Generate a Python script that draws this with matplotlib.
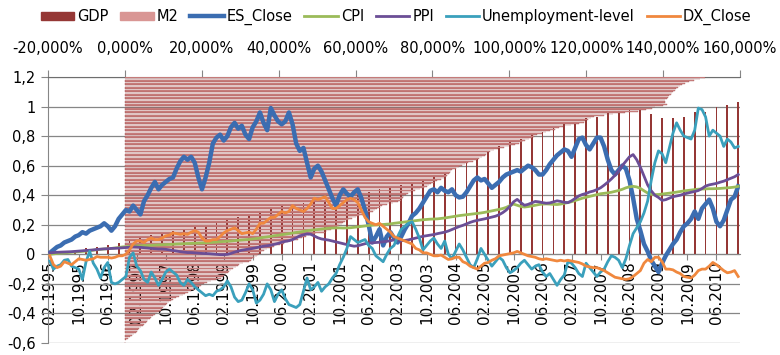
import matplotlib
matplotlib.use("Agg")
import matplotlib.pyplot as plt
from matplotlib.patches import Patch
from matplotlib.lines import Line2D

# monthly categories 02.1995 .. 12.2010 (191 months)
n_months = 191
tick_labels = ["02.1995", "10.1995", "06.1996", "02.1997", "10.1997", "06.1998",
               "02.1999", "10.1999", "06.2000", "02.2001", "10.2001", "06.2002",
               "02.2003", "10.2003", "06.2004", "02.2005", "10.2005", "06.2006",
               "02.2007", "10.2007", "06.2008", "02.2009", "10.2009", "06.2010"]

es_close = [
    0.01, 0.03, 0.05, 0.06, 0.08, 0.09, 0.10, 0.12, 0.13, 0.15, 0.14, 0.16,
    0.17, 0.18, 0.19, 0.21, 0.19, 0.16, 0.19, 0.24, 0.27, 0.30, 0.29, 0.33,
    0.30, 0.27, 0.36, 0.40, 0.45, 0.49, 0.44, 0.47, 0.49, 0.51, 0.52, 0.58,
    0.63, 0.66, 0.64, 0.66, 0.62, 0.52, 0.44, 0.52, 0.62, 0.75, 0.79, 0.81,
    0.77, 0.80, 0.86, 0.89, 0.85, 0.87, 0.81, 0.78, 0.86, 0.90, 0.96, 0.89,
    0.84, 0.99, 0.94, 0.90, 0.88, 0.90, 0.96, 0.88, 0.75, 0.70, 0.72, 0.62,
    0.52, 0.58, 0.60, 0.56, 0.50, 0.44, 0.38, 0.33, 0.40, 0.44, 0.41, 0.39,
    0.42, 0.44, 0.38, 0.30, 0.20, 0.08, 0.12, 0.17, 0.06, 0.12, 0.15, 0.11,
    0.08, 0.12, 0.17, 0.21, 0.26, 0.28, 0.31, 0.35, 0.39, 0.43, 0.44, 0.42,
    0.45, 0.43, 0.42, 0.44, 0.40, 0.385, 0.39, 0.42, 0.46, 0.50, 0.52, 0.50,
    0.51, 0.48, 0.45, 0.47, 0.49, 0.52, 0.54, 0.55, 0.56, 0.57, 0.56, 0.58,
    0.60, 0.59, 0.57, 0.54, 0.54, 0.57, 0.61, 0.64, 0.67, 0.69, 0.71, 0.70,
    0.66, 0.72, 0.78, 0.79, 0.74, 0.71, 0.75, 0.79, 0.79, 0.73, 0.64, 0.57,
    0.54, 0.57, 0.60, 0.58, 0.50, 0.38, 0.24, 0.16, 0.07, 0.02, -0.04, -0.08,
    -0.12, -0.06, -0.01, 0.03, 0.07, 0.10, 0.15, 0.19, 0.21, 0.24, 0.29, 0.24,
    0.31, 0.34, 0.37, 0.31, 0.22, 0.19, 0.23, 0.30, 0.37, 0.39, 0.46]

cpi = [
    0.000, 0.003, 0.006, 0.008, 0.010, 0.012, 0.014, 0.016, 0.018, 0.020, 0.022, 0.025,
    0.028, 0.031, 0.034, 0.036, 0.038, 0.040, 0.043, 0.046, 0.050, 0.052, 0.053, 0.055,
    0.057, 0.058, 0.059, 0.060, 0.061, 0.063, 0.064, 0.065, 0.066, 0.067, 0.068, 0.070,
    0.071, 0.072, 0.073, 0.074, 0.075, 0.076, 0.077, 0.078, 0.080, 0.081, 0.083, 0.085,
    0.087, 0.088, 0.090, 0.093, 0.095, 0.097, 0.099, 0.101, 0.104, 0.107, 0.110, 0.115,
    0.118, 0.122, 0.126, 0.129, 0.133, 0.136, 0.140, 0.144, 0.148, 0.151, 0.155, 0.160,
    0.163, 0.166, 0.168, 0.171, 0.174, 0.177, 0.178, 0.179, 0.179, 0.178, 0.179, 0.180,
    0.183, 0.186, 0.189, 0.192, 0.195, 0.197, 0.199, 0.200, 0.202, 0.204, 0.206, 0.210,
    0.213, 0.216, 0.219, 0.222, 0.225, 0.228, 0.231, 0.234, 0.236, 0.238, 0.239, 0.240,
    0.243, 0.246, 0.250, 0.254, 0.258, 0.262, 0.265, 0.268, 0.271, 0.274, 0.277, 0.280,
    0.284, 0.289, 0.294, 0.299, 0.304, 0.310, 0.318, 0.330, 0.340, 0.332, 0.324, 0.320,
    0.323, 0.327, 0.332, 0.337, 0.340, 0.341, 0.340, 0.338, 0.337, 0.340, 0.345, 0.350,
    0.356, 0.364, 0.372, 0.380, 0.386, 0.392, 0.398, 0.404, 0.410, 0.413, 0.416, 0.420,
    0.426, 0.432, 0.440, 0.450, 0.457, 0.460, 0.456, 0.446, 0.430, 0.415, 0.406, 0.404,
    0.405, 0.408, 0.411, 0.414, 0.417, 0.421, 0.425, 0.429, 0.432, 0.435, 0.438, 0.441,
    0.442, 0.443, 0.444, 0.444, 0.445, 0.446, 0.448, 0.450, 0.452, 0.455, 0.460]

ppi = [
    0.010, 0.012, 0.014, 0.015, 0.016, 0.017, 0.018, 0.020, 0.022, 0.024, 0.026, 0.028,
    0.030, 0.033, 0.035, 0.037, 0.038, 0.040, 0.041, 0.042, 0.044, 0.046, 0.048, 0.050,
    0.049, 0.047, 0.045, 0.043, 0.040, 0.038, 0.036, 0.036, 0.034, 0.030, 0.026, 0.022,
    0.018, 0.015, 0.012, 0.012, 0.010, 0.008, 0.006, 0.005, 0.004, 0.002, 0.000, -0.002,
    -0.002, 0.000, 0.006, 0.015, 0.022, 0.028, 0.032, 0.036, 0.040, 0.045, 0.050, 0.055,
    0.058, 0.062, 0.068, 0.074, 0.082, 0.088, 0.092, 0.100, 0.112, 0.125, 0.132, 0.138,
    0.136, 0.124, 0.112, 0.104, 0.100, 0.096, 0.090, 0.084, 0.078, 0.072, 0.066, 0.060,
    0.055, 0.058, 0.065, 0.072, 0.076, 0.078, 0.080, 0.082, 0.085, 0.088, 0.092, 0.098,
    0.096, 0.092, 0.094, 0.098, 0.104, 0.110, 0.116, 0.122, 0.126, 0.130, 0.134, 0.140,
    0.145, 0.150, 0.158, 0.168, 0.178, 0.188, 0.196, 0.206, 0.216, 0.224, 0.230, 0.235,
    0.240, 0.246, 0.252, 0.258, 0.268, 0.282, 0.300, 0.325, 0.355, 0.372, 0.350, 0.332,
    0.338, 0.348, 0.358, 0.355, 0.350, 0.346, 0.348, 0.355, 0.362, 0.358, 0.352, 0.350,
    0.362, 0.378, 0.395, 0.405, 0.412, 0.422, 0.428, 0.438, 0.450, 0.468, 0.488, 0.510,
    0.535, 0.565, 0.600, 0.630, 0.660, 0.675, 0.640, 0.590, 0.530, 0.470, 0.430, 0.400,
    0.385, 0.365, 0.370, 0.380, 0.390, 0.395, 0.400, 0.408, 0.414, 0.420, 0.425, 0.432,
    0.445, 0.462, 0.470, 0.475, 0.480, 0.488, 0.495, 0.505, 0.515, 0.525, 0.540]

unemployment = [
    -0.045, -0.10, -0.08, -0.07, -0.04, -0.035, -0.08, -0.09, -0.10, -0.17, -0.05, 0.02,
    -0.06, -0.10, -0.16, -0.09, -0.055, -0.19, -0.20, -0.19, -0.17, -0.15, -0.02, 0.01,
    -0.08, -0.11, -0.17, -0.19, -0.12, -0.16, -0.21, -0.17, -0.12, -0.10, -0.12, -0.14,
    -0.19, -0.21, -0.17, -0.19, -0.22, -0.24, -0.26, -0.28, -0.27, -0.28, -0.25, -0.24,
    -0.22, -0.18, -0.22, -0.29, -0.32, -0.31, -0.26, -0.20, -0.24, -0.33, -0.31, -0.27,
    -0.20, -0.24, -0.32, -0.27, -0.24, -0.30, -0.34, -0.35, -0.36, -0.34, -0.25, -0.16,
    -0.24, -0.22, -0.19, -0.25, -0.22, -0.20, -0.16, -0.13, -0.07, -0.02, 0.04, 0.12,
    0.10, 0.08, 0.09, 0.10, 0.06, 0.04, -0.01, -0.03, -0.05, 0.00, 0.04, 0.06,
    0.12, 0.17, 0.19, 0.21, 0.22, 0.17, 0.11, 0.03, 0.06, 0.09, 0.11, 0.07,
    0.04, 0.09, 0.00, -0.03, 0.02, 0.07, 0.03, -0.02, -0.07, -0.09, -0.03, 0.04,
    0.00, -0.04, -0.08, -0.05, -0.02, -0.04, -0.09, -0.125, -0.11, -0.09, -0.06, -0.04,
    -0.07, -0.10, -0.08, -0.07, -0.12, -0.15, -0.13, -0.17, -0.21, -0.17, -0.14, -0.05,
    -0.06, -0.09, -0.13, -0.15, -0.06, -0.09, -0.12, -0.15, -0.12, -0.10, -0.05, -0.01,
    -0.02, -0.04, -0.09, -0.03, 0.06, 0.14, 0.18, 0.22, 0.28, 0.36, 0.50, 0.62,
    0.70, 0.68, 0.62, 0.72, 0.82, 0.89, 0.84, 0.80, 0.79, 0.78, 0.84, 0.99,
    0.98, 0.93, 0.80, 0.84, 0.82, 0.80, 0.73, 0.78, 0.76, 0.72, 0.73]

dx_close = [
    -0.01, -0.07, -0.09, -0.08, -0.05, -0.06, -0.07, -0.05, -0.03, -0.035, -0.04, -0.035,
    -0.03, -0.015, -0.02, -0.02, -0.02, -0.025, -0.02, -0.01, -0.01, 0.00, 0.03, 0.07,
    0.09, 0.09, 0.08, 0.10, 0.11, 0.10, 0.10, 0.11, 0.125, 0.13, 0.145, 0.14,
    0.135, 0.14, 0.135, 0.15, 0.16, 0.15, 0.11, 0.09, 0.09, 0.10, 0.10, 0.12,
    0.145, 0.16, 0.17, 0.18, 0.16, 0.14, 0.145, 0.15, 0.14, 0.17, 0.21, 0.21,
    0.23, 0.25, 0.25, 0.27, 0.29, 0.28, 0.29, 0.33, 0.31, 0.30, 0.29, 0.31,
    0.34, 0.38, 0.37, 0.38, 0.39, 0.35, 0.31, 0.31, 0.33, 0.35, 0.37, 0.38,
    0.37, 0.35, 0.30, 0.25, 0.22, 0.21, 0.20, 0.21, 0.19, 0.17, 0.15, 0.12,
    0.11, 0.10, 0.09, 0.08, 0.07, 0.04, 0.03, 0.01, 0.01, 0.00, -0.01, -0.01,
    -0.005, -0.02, -0.035, -0.03, -0.02, -0.02, -0.05, -0.06, -0.08, -0.09, -0.10, -0.08,
    -0.06, -0.055, -0.04, -0.03, -0.01, -0.005, 0.00, 0.005, 0.01, 0.02, 0.01, 0.00,
    -0.01, -0.015, -0.02, -0.03, -0.035, -0.03, -0.035, -0.04, -0.045, -0.04, -0.045, -0.04,
    -0.045, -0.05, -0.055, -0.065, -0.08, -0.085, -0.09, -0.09, -0.10, -0.11, -0.125, -0.14,
    -0.155, -0.16, -0.165, -0.17, -0.165, -0.15, -0.13, -0.11, -0.06, -0.035, -0.05, -0.02,
    -0.02, -0.05, -0.10, -0.10, -0.105, -0.12, -0.13, -0.15, -0.155, -0.16, -0.14, -0.11,
    -0.10, -0.10, -0.08, -0.055, -0.07, -0.09, -0.11, -0.125, -0.12, -0.11, -0.15]

# quarterly GDP (months 03.1995, 06.1995, ... 12.2010)
gdp = [0.00, 0.01, 0.02, 0.04, 0.05, 0.06, 0.08, 0.10,
       0.11, 0.13, 0.14, 0.16, 0.17, 0.19, 0.20, 0.21,
       0.23, 0.25, 0.27, 0.29, 0.31, 0.33, 0.34, 0.35,
       0.36, 0.37, 0.37, 0.38, 0.40, 0.42, 0.44, 0.45,
       0.47, 0.49, 0.51, 0.54, 0.55, 0.58, 0.62, 0.65,
       0.70, 0.73, 0.77, 0.78, 0.82, 0.83, 0.86, 0.88,
       0.89, 0.92, 0.93, 0.96, 0.96, 0.98, 0.98, 0.95,
       0.92, 0.92, 0.93, 0.96, 0.96, 1.00, 1.01, 1.03]

# M2 growth, monthly, drawn as horizontal bars on the secondary axes
m2 = [
    0.000, 0.001, 0.004, 0.009, 0.014, 0.019, 0.024, 0.028, 0.031, 0.035, 0.038,
    0.042, 0.046, 0.051, 0.054, 0.057, 0.061, 0.065, 0.069, 0.073, 0.078, 0.083, 0.089,
    0.093, 0.096, 0.100, 0.104, 0.106, 0.110, 0.115, 0.120, 0.126, 0.133, 0.141, 0.150,
    0.157, 0.165, 0.173, 0.180, 0.186, 0.192, 0.198, 0.205, 0.213, 0.225, 0.238, 0.249,
    0.255, 0.259, 0.263, 0.268, 0.272, 0.277, 0.282, 0.288, 0.293, 0.298, 0.307, 0.323,
    0.328, 0.330, 0.335, 0.343, 0.345, 0.348, 0.354, 0.362, 0.370, 0.378, 0.388, 0.403,
    0.414, 0.423, 0.434, 0.450, 0.460, 0.470, 0.480, 0.494, 0.520, 0.525, 0.535, 0.548,
    0.553, 0.558, 0.565, 0.568, 0.573, 0.580, 0.590, 0.600, 0.610, 0.620, 0.633, 0.645,
    0.650, 0.656, 0.663, 0.670, 0.683, 0.697, 0.710, 0.718, 0.722, 0.723, 0.726, 0.731,
    0.737, 0.745, 0.755, 0.768, 0.778, 0.785, 0.790, 0.796, 0.805, 0.813, 0.822, 0.831,
    0.835, 0.838, 0.842, 0.845, 0.847, 0.852, 0.860, 0.868, 0.878, 0.885, 0.893, 0.905,
    0.915, 0.920, 0.928, 0.936, 0.940, 0.945, 0.950, 0.960, 0.970, 0.985, 1.000, 1.016,
    1.025, 1.032, 1.040, 1.052, 1.060, 1.065, 1.073, 1.085, 1.095, 1.107, 1.118, 1.130,
    1.140, 1.160, 1.180, 1.195, 1.198, 1.205, 1.213, 1.220, 1.245, 1.270, 1.300, 1.335,
    1.355, 1.370, 1.380, 1.400, 1.410, 1.405, 1.405, 1.405, 1.410, 1.412, 1.415, 1.421,
    1.423, 1.427, 1.430, 1.433, 1.440, 1.443, 1.450, 1.458, 1.467, 1.480, 1.495, 1.509]

GRID = "#868686"
FS = 10.5

months = list(range(n_months))
gdp_months = list(range(1, n_months, 3))

fig = plt.figure(figsize=(7.8, 3.55), dpi=100)
rect = [48 / 780, 1 - 343 / 355, 692 / 780, 266 / 355]

# primary: gridlines, GDP columns, axes
ax = fig.add_axes(rect)
ax.set_xlim(-0.5, n_months - 0.5)
ax.set_ylim(-0.6, 1.2)
# move the category axis to y=0 first (this resets the ticks)
for s in ["top", "right"]:
    ax.spines[s].set_visible(False)
ax.spines["left"].set_color(GRID)
ax.spines["bottom"].set_position(("data", 0))
ax.spines["bottom"].set_color(GRID)

yt = [-0.6, -0.4, -0.2, 0, 0.2, 0.4, 0.6, 0.8, 1.0, 1.2]
ax.set_yticks(yt)
ax.set_yticklabels([f"{v:g}".replace(".", ",") for v in yt])
ax.yaxis.grid(True, color=GRID, lw=0.9)
ax.set_axisbelow(True)
ax.bar(gdp_months, gdp, width=0.5, color="#953735", zorder=2)
ax.set_xticks(months[::8])
ax.set_xticklabels(tick_labels)
ax.tick_params(axis="x", length=4, color=GRID, pad=1, labelrotation=90, labelsize=11)
ax.tick_params(axis="y", length=5, color=GRID, pad=4, labelsize=FS)

# secondary: M2 horizontal bars with the percent axis on top
ax2 = fig.add_axes(rect, facecolor="none")
ax2.set_xlim(-0.2, 1.6)
ax2.set_ylim(-0.5, n_months - 0.5)
ax2.barh(months, m2, left=0, height=0.55, color="#D99694",
         edgecolor="#A04A49", linewidth=0.25, zorder=3)
ax2.xaxis.tick_top()
xt = [-0.2, 0, 0.2, 0.4, 0.6, 0.8, 1.0, 1.2, 1.4, 1.6]
ax2.set_xticks(xt)
ax2.set_xticklabels([f"{v * 100:.3f}".replace(".", ",") + "%" for v in xt])
ax2.tick_params(axis="x", length=5, color=GRID, pad=10, labelsize=FS)
ax2.set_yticks([])
for s in ["bottom", "left", "right"]:
    ax2.spines[s].set_visible(False)
ax2.spines["top"].set_color("#6E6E6E")

# lines on top
ax3 = fig.add_axes(rect, facecolor="none")
ax3.set_xlim(-0.5, n_months - 0.5)
ax3.set_ylim(-0.6, 1.2)
ax3.axis("off")
ax3.plot(months, es_close, color="#3B6DB1", lw=3.2, solid_joinstyle="round")
ax3.plot(months, cpi, color="#9BBB59", lw=2)
ax3.plot(months, ppi, color="#6B4E96", lw=2)
ax3.plot(months, unemployment, color="#3AA0BC", lw=2)
ax3.plot(months, dx_close, color="#F0883E", lw=2)

handles = [Patch(color="#953735"), Patch(color="#D99694"),
           Line2D([], [], color="#3B6DB1", lw=3.2),
           Line2D([], [], color="#9BBB59", lw=2),
           Line2D([], [], color="#6B4E96", lw=2),
           Line2D([], [], color="#3AA0BC", lw=2),
           Line2D([], [], color="#F0883E", lw=2)]
labels = ["GDP", "M2", "ES_Close", "CPI", "PPI", "Unemployment-level", "DX_Close"]
fig.legend(handles, labels, loc="center", bbox_to_anchor=(0.508, 1 - 17 / 355),
           ncol=7, frameon=False, fontsize=FS, handlelength=2.3, handleheight=0.5,
           handletextpad=0.2, columnspacing=0.8, borderpad=0)

fig.savefig("out.png", dpi=100)
